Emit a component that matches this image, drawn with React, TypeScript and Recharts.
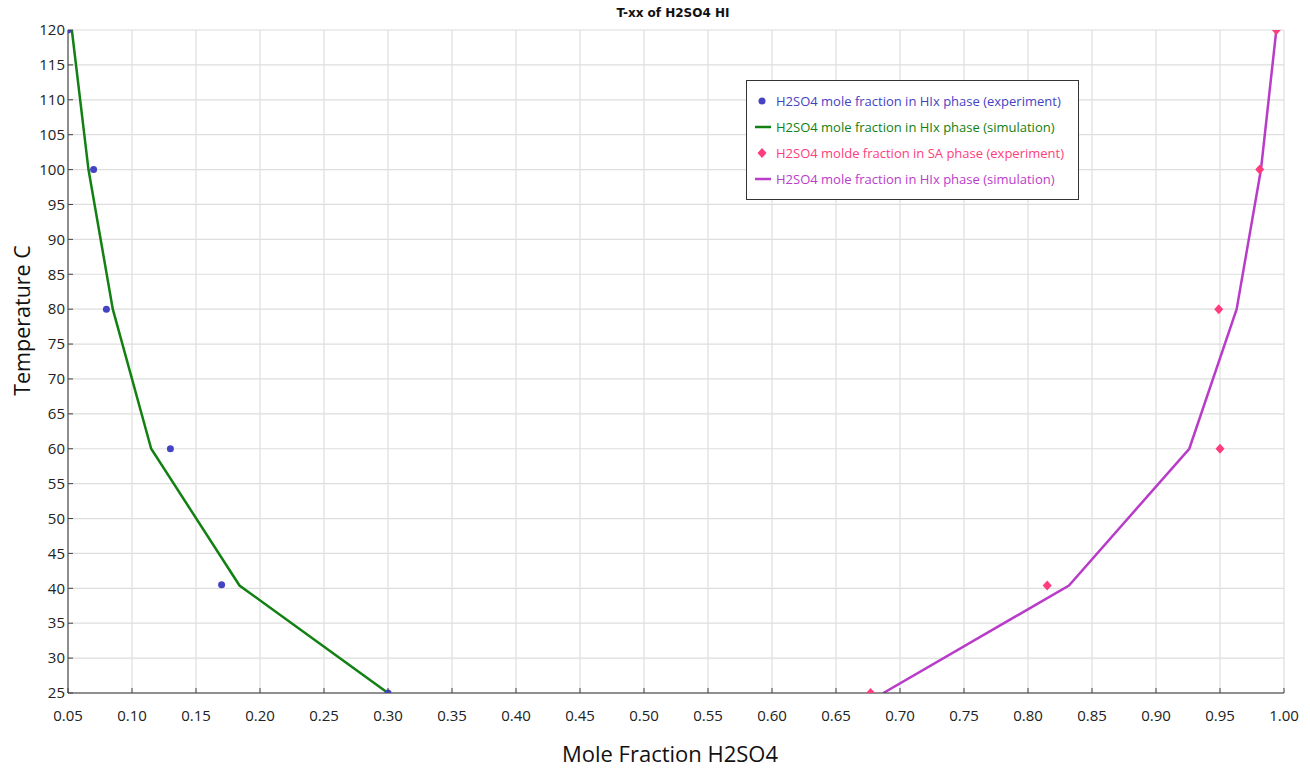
import {
  ComposedChart,
  Line,
  Scatter,
  XAxis,
  YAxis,
  CartesianGrid,
  Label,
} from "recharts";

// experiment, HIx phase (blue dots)
const hixExpX = [0.05, 0.07, 0.08, 0.13, 0.17, 0.3];
const hixExpT = [120, 100, 80, 60, 40.5, 25];

// simulation, HIx phase (green line)
const hixSimX = [0.053, 0.066, 0.085, 0.115, 0.184, 0.3];
const hixSimT = [120, 100, 80, 60, 40.4, 25];

// experiment, SA phase (pink diamonds)
const saExpX = [0.994, 0.981, 0.949, 0.95, 0.815, 0.677];
const saExpT = [120, 100, 80, 60, 40.4, 25];

// simulation, second line (magenta)
const saSimX = [0.994, 0.982, 0.963, 0.926, 0.832, 0.687];
const saSimT = [120, 100, 80, 60, 40.4, 25];

const xTicks = [
  0.05, 0.1, 0.15, 0.2, 0.25, 0.3, 0.35, 0.4, 0.45, 0.5, 0.55, 0.6, 0.65, 0.7,
  0.75, 0.8, 0.85, 0.9, 0.95, 1.0,
];
const yTicks = [25, 30, 35, 40, 45, 50, 55, 60, 65, 70, 75, 80, 85, 90, 95, 100, 105, 110, 115, 120];

const toPts = (xs: number[], ts: number[]) => xs.map((x, i) => ({ x, t: ts[i] }));

const BLUE = "#4343c4";
const GREEN = "#128012";
const PINK = "#ff3d7c";
const MAGENTA = "#b93cc9";
const FONT = "'Open Sans', 'Noto Sans', sans-serif";

const series = [
  { name: "H2SO4 mole fraction in HIx phase (experiment)", color: BLUE, kind: "dot" },
  { name: "H2SO4 mole fraction in HIx phase (simulation)", color: GREEN, kind: "line" },
  { name: "H2SO4 molde fraction in SA phase (experiment)", color: PINK, kind: "diamond" },
  { name: "H2SO4 mole fraction in HIx phase (simulation)", color: MAGENTA, kind: "line" },
];

const XTick = ({ x, y, payload }: any) => (
  <g>
    <line x1={x} x2={x} y1={y} y2={y - 5} stroke="#444" />
    <text x={x} y={y + 28} textAnchor="middle" fontSize={15} fill="#222" fontFamily={FONT}>
      {payload.value.toFixed(2)}
    </text>
  </g>
);

const YTick = ({ x, y, payload }: any) => (
  <g>
    <line x1={x} x2={x + 5} y1={y} y2={y} stroke="#444" />
    <text x={x - 3} y={y} dy="0.35em" textAnchor="end" fontSize={15} fill="#222" fontFamily={FONT}>
      {payload.value}
    </text>
  </g>
);

const Dot = ({ cx, cy }: any) => <circle cx={cx} cy={cy} r={3.5} fill={BLUE} />;

const Diamond = ({ cx, cy }: any) => (
  <path d={`M${cx},${cy - 5}L${cx + 4.5},${cy}L${cx},${cy + 5}L${cx - 4.5},${cy}Z`} fill={PINK} />
);

const LegendBox = () => (
  <div
    style={{
      position: "absolute",
      left: 746,
      top: 80,
      width: 333,
      boxSizing: "border-box",
      border: "1px solid #333",
      background: "#fff",
      padding: "7px 0 7px 8px",
      fontFamily: FONT,
      fontSize: 13,
    }}
  >
    {series.map((s) => (
      <div key={s.color} style={{ display: "flex", alignItems: "center", height: 26 }}>
        <svg width={18} height={14} style={{ marginRight: 3 }}>
          {s.kind === "dot" && <circle cx={7} cy={7} r={3.5} fill={s.color} />}
          {s.kind === "diamond" && <path d="M7,2L11.5,7L7,12L2.5,7Z" fill={s.color} />}
          {s.kind === "line" && <line x1={0} x2={16} y1={7} y2={7} stroke={s.color} strokeWidth={2.5} />}
        </svg>
        <span style={{ color: s.color, whiteSpace: "nowrap" }}>{s.name}</span>
      </div>
    ))}
  </div>
);

export default function App() {
  return (
    <div style={{ position: "absolute", left: 0, top: 0, width: 1310, height: 769, background: "#fff" }}>
      <ComposedChart width={1310} height={769} margin={{ top: 30, right: 26, bottom: 36, left: 8 }}>
        <CartesianGrid stroke="#dedede" strokeWidth={1.2} />
        <XAxis
          type="number"
          dataKey="x"
          domain={[0.05, 1.0]}
          ticks={xTicks}
          allowDataOverflow
          height={40}
          tickSize={0}
          tickMargin={0}
          tick={<XTick />}
          stroke="#333"
        >
          <Label
            value="Mole Fraction H2SO4"
            position="insideBottom"
            offset={-29}
            dx={-6}
            style={{ fontSize: 22, fill: "#111", fontFamily: FONT }}
          />
        </XAxis>
        <YAxis
          type="number"
          dataKey="t"
          domain={[25, 120]}
          ticks={yTicks}
          allowDataOverflow
          width={60}
          tickSize={0}
          tickMargin={0}
          tick={<YTick />}
          stroke="#333"
        >
          <Label
            value="Temperature C"
            angle={-90}
            position="insideLeft"
            offset={14}
            dy={-41}
            style={{ fontSize: 21.5, fill: "#111", fontFamily: FONT, textAnchor: "middle" }}
          />
        </YAxis>
        <Line
          data={toPts(hixSimX, hixSimT)}
          dataKey="t"
          stroke={GREEN}
          strokeWidth={2.5}
          dot={false}
          type="linear"
          isAnimationActive={false}
        />
        <Line
          data={toPts(saSimX, saSimT)}
          dataKey="t"
          stroke={MAGENTA}
          strokeWidth={2.5}
          dot={false}
          type="linear"
          isAnimationActive={false}
        />
        <Scatter data={toPts(hixExpX, hixExpT)} dataKey="t" shape={<Dot />} isAnimationActive={false} />
        <Scatter data={toPts(saExpX, saExpT)} dataKey="t" shape={<Diamond />} isAnimationActive={false} />
      </ComposedChart>
      <div
        style={{
          position: "absolute",
          left: 0,
          width: 1346,
          top: 6,
          textAlign: "center",
          fontFamily: "'DejaVu Sans', Verdana, sans-serif",
          fontWeight: 700,
          fontSize: 12,
          color: "#111",
        }}
      >
        T-xx of H2SO4 HI
      </div>
      <LegendBox />
    </div>
  );
}
